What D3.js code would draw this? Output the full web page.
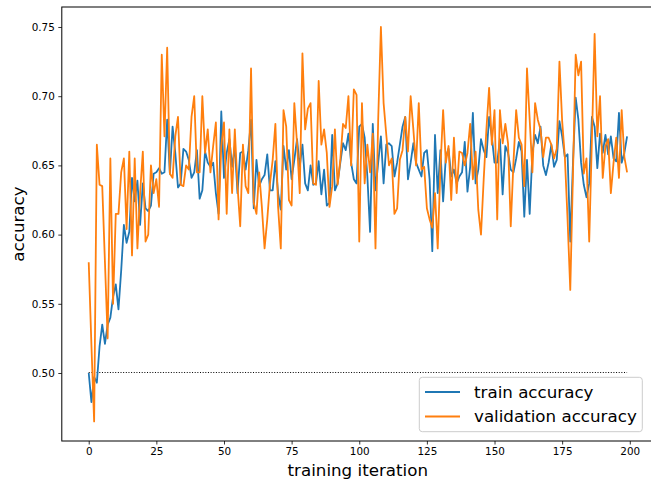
<!DOCTYPE html>
<html>
<head>
<meta charset="utf-8">
<script src="https://cdn.jsdelivr.net/npm/d3@7"></script>
<style>
  body { margin: 0; background: #fff; }
  text { font-family: "DejaVu Sans", sans-serif; }
</style>
</head>
<body>
<div id="chart-area"></div>
<script>
// accuracy per training iteration
const trainAcc = [
  0.500, 0.479, 0.497, 0.493, 0.519, 0.535, 0.521, 0.535, 0.540, 0.555,
  0.564, 0.546, 0.574, 0.607, 0.594, 0.602, 0.641, 0.624, 0.639, 0.607,
  0.637, 0.619, 0.617, 0.621, 0.644, 0.645, 0.648, 0.644, 0.645, 0.683,
  0.644, 0.678, 0.659, 0.634, 0.637, 0.662, 0.660, 0.654, 0.641, 0.645,
  0.661, 0.626, 0.632, 0.660, 0.652, 0.649, 0.652, 0.630, 0.615, 0.689,
  0.641, 0.659, 0.669, 0.649, 0.664, 0.630, 0.659, 0.660, 0.647, 0.661,
  0.683, 0.619, 0.654, 0.635, 0.640, 0.643, 0.658, 0.632, 0.632, 0.653,
  0.630, 0.618, 0.664, 0.647, 0.661, 0.640, 0.654, 0.669, 0.649, 0.665,
  0.637, 0.632, 0.650, 0.636, 0.637, 0.653, 0.629, 0.647, 0.621, 0.623,
  0.672, 0.632, 0.637, 0.652, 0.666, 0.661, 0.673, 0.652, 0.640, 0.637,
  0.678, 0.680, 0.670, 0.642, 0.602, 0.680, 0.632, 0.652, 0.671, 0.637,
  0.665, 0.666, 0.664, 0.642, 0.652, 0.665, 0.678, 0.685, 0.640, 0.652,
  0.666, 0.652, 0.647, 0.642, 0.659, 0.661, 0.640, 0.588, 0.672, 0.630,
  0.661, 0.624, 0.656, 0.662, 0.642, 0.647, 0.637, 0.642, 0.645, 0.667,
  0.631, 0.649, 0.688, 0.637, 0.647, 0.669, 0.661, 0.656, 0.685, 0.671,
  0.652, 0.652, 0.669, 0.629, 0.664, 0.659, 0.647, 0.645, 0.655, 0.667,
  0.660, 0.613, 0.654, 0.615, 0.659, 0.672, 0.666, 0.678, 0.650, 0.643,
  0.652, 0.665, 0.649, 0.654, 0.682, 0.671, 0.656, 0.658, 0.595, 0.652,
  0.699, 0.683, 0.652, 0.636, 0.627, 0.637, 0.685, 0.678, 0.648, 0.673,
  0.659, 0.672, 0.658, 0.671, 0.655, 0.653, 0.688, 0.652, 0.659, 0.671
]

const valAcc = [
  0.580, 0.520, 0.465, 0.665, 0.636, 0.635, 0.580, 0.525, 0.655, 0.550,
  0.615, 0.615, 0.645, 0.655, 0.604, 0.660, 0.585, 0.655, 0.590, 0.630,
  0.660, 0.595, 0.600, 0.650, 0.630, 0.640, 0.620, 0.730, 0.671, 0.735,
  0.644, 0.641, 0.671, 0.685, 0.636, 0.635, 0.650, 0.647, 0.685, 0.700,
  0.645, 0.645, 0.700, 0.659, 0.676, 0.645, 0.664, 0.681, 0.611, 0.664,
  0.681, 0.615, 0.676, 0.630, 0.676, 0.635, 0.606, 0.665, 0.635, 0.630,
  0.720, 0.623, 0.615, 0.645, 0.620, 0.590, 0.611, 0.637, 0.654, 0.680,
  0.620, 0.590, 0.690, 0.678, 0.625, 0.621, 0.695, 0.666, 0.630, 0.731,
  0.676, 0.691, 0.695, 0.637, 0.636, 0.711, 0.665, 0.676, 0.659, 0.620,
  0.635, 0.676, 0.636, 0.654, 0.680, 0.677, 0.700, 0.650, 0.705, 0.701,
  0.595, 0.695, 0.637, 0.665, 0.645, 0.673, 0.590, 0.683, 0.750, 0.695,
  0.672, 0.650, 0.655, 0.615, 0.619, 0.654, 0.661, 0.685, 0.660, 0.700,
  0.676, 0.650, 0.695, 0.647, 0.649, 0.619, 0.611, 0.605, 0.630, 0.590,
  0.648, 0.690, 0.652, 0.664, 0.625, 0.670, 0.630, 0.660, 0.659, 0.650,
  0.659, 0.680, 0.640, 0.660, 0.618, 0.600, 0.640, 0.676, 0.706, 0.665,
  0.690, 0.611, 0.690, 0.666, 0.680, 0.666, 0.606, 0.652, 0.690, 0.670,
  0.665, 0.635, 0.720, 0.683, 0.645, 0.695, 0.683, 0.676, 0.656, 0.670,
  0.670, 0.665, 0.655, 0.662, 0.725, 0.682, 0.656, 0.611, 0.560, 0.644,
  0.730, 0.715, 0.725, 0.644, 0.655, 0.595, 0.669, 0.745, 0.671, 0.700,
  0.641, 0.664, 0.669, 0.630, 0.652, 0.670, 0.641, 0.690, 0.656, 0.645
]

const baseline = 0.5
const xTicks = [0, 25, 50, 75, 100, 125, 150, 175, 200]
const yTicks = [0.50, 0.55, 0.60, 0.65, 0.70, 0.75]
const seriesNames = ['train accuracy', 'validation accuracy']

const W = 651, H = 481
const plot = {left: 61.8, right: 654, top: 7, bottom: 441}

const svg = d3.select('#chart-area').append('svg')
  .attr('width', W)
  .attr('height', H)

const x = d3.scaleLinear()
  .domain([-9.95, 208.95])
  .range([plot.left, plot.right])

const y = d3.scaleLinear()
  .domain([0.45087, 0.76445])
  .range([plot.bottom, plot.top])

svg.append('clipPath').attr('id', 'clip')
  .append('rect')
  .attr('x', plot.left).attr('y', plot.top)
  .attr('width', plot.right - plot.left).attr('height', plot.bottom - plot.top)

const g = svg.append('g').attr('clip-path', 'url(#clip)')

const line = d3.line()
  .x((d, i) => x(i))
  .y(d => y(d))

// dotted chance level (nudged half a pixel so it lands on one pixel row)
const by = Math.round(y(baseline)) - 0.5
g.append('line')
  .attr('x1', x(0)).attr('x2', x(trainAcc.length - 1))
  .attr('y1', by).attr('y2', by)
  .attr('stroke', '#000')
  .attr('stroke-width', 1)
  .attr('stroke-dasharray', '1,1.65')

g.append('path')
  .datum(trainAcc)
  .attr('fill', 'none')
  .attr('stroke', '#1f77b4')
  .attr('stroke-width', 1.8)
  .attr('stroke-linejoin', 'round')
  .attr('d', line)

g.append('path')
  .datum(valAcc)
  .attr('fill', 'none')
  .attr('stroke', '#ff7f0e')
  .attr('stroke-width', 1.8)
  .attr('stroke-linejoin', 'round')
  .attr('d', line)

// axes
const xAxisCall = d3.axisBottom(x)
  .tickValues(xTicks)
  .tickSize(3.5)
  .tickPadding(3.5)
  .tickFormat(d3.format('d'))
svg.append('g')
  .attr('transform', `translate(0,${plot.bottom})`)
  .call(xAxisCall)

const yAxisCall = d3.axisLeft(y)
  .tickValues(yTicks)
  .tickSize(3.5)
  .tickPadding(3.5)
  .tickFormat(d3.format('.2f'))
svg.append('g')
  .attr('transform', `translate(${plot.left},0)`)
  .call(yAxisCall)

svg.selectAll('.domain').remove()
svg.selectAll('.tick line').attr('stroke', '#000').attr('stroke-width', 0.8)
svg.selectAll('.tick text')
  .attr('fill', '#000')
  .style('font-family', '"DejaVu Sans", sans-serif')
  .style('font-size', '10.4px')

// spines
svg.append('rect')
  .attr('x', plot.left).attr('y', plot.top)
  .attr('width', plot.right - plot.left).attr('height', plot.bottom - plot.top)
  .attr('fill', 'none')
  .attr('stroke', '#000')
  .attr('stroke-width', 1)

// labels
svg.append('text')
  .attr('x', (287.3 + 428.3) / 2)
  .attr('y', 476)
  .attr('text-anchor', 'middle')
  .style('font-size', '16.7px')
  .text('training iteration')

svg.append('text')
  .attr('transform', `translate(24,${(plot.top + plot.bottom) / 2}) rotate(-90)`)
  .attr('text-anchor', 'middle')
  .style('font-size', '16.7px')
  .text('accuracy')

// legend
const legend = svg.append('g')
legend.append('rect')
  .attr('x', 419.3).attr('y', 377.3)
  .attr('width', 223).attr('height', 54.4)
  .attr('rx', 3)
  .attr('fill', '#fff').attr('fill-opacity', 0.8)
  .attr('stroke', '#ccc').attr('stroke-width', 1)

const colors = ['#1f77b4', '#ff7f0e']
seriesNames.forEach((name, i) => {
  const ly = 392 + i * 24.5
  legend.append('line')
    .attr('x1', 425).attr('x2', 460)
    .attr('y1', ly).attr('y2', ly)
    .attr('stroke', colors[i])
    .attr('stroke-width', 1.8)
  legend.append('text')
    .attr('x', 474)
    .attr('y', ly)
    .attr('dy', '0.35em')
    .style('font-size', '16.7px')
    .text(name)
})
</script>
</body>
</html>
